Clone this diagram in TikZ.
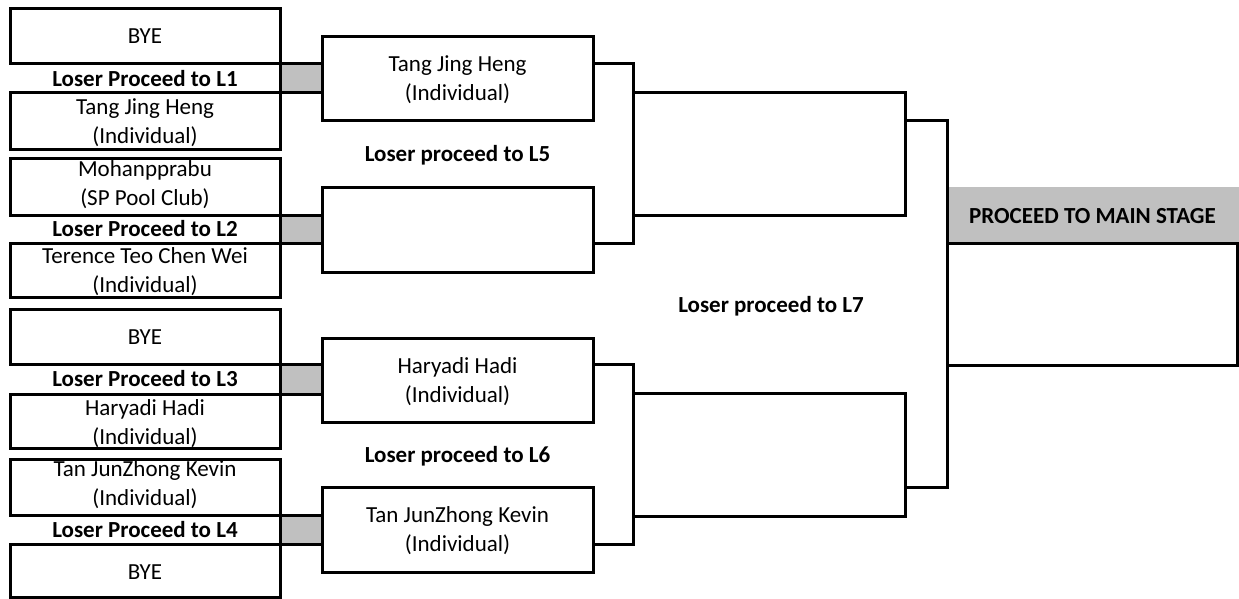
\documentclass[tikz,border=0pt]{standalone}
\usepackage{fontspec}
\setmainfont{Carlito}
\usetikzlibrary{backgrounds}
\definecolor{cellgray}{HTML}{C0C0C0}
\newcommand\twoln[2]{\begin{tabular}[t]{@{}c@{}}#1\\#2\end{tabular}}
\begin{document}
\begin{tikzpicture}[x=1pt,y=-1pt,
  box/.style={draw, rectangle, inner sep=0pt, outer sep=0pt, line width=3pt},
  lbox/.style={box, minimum width=270pt},
  rbox/.style={box, minimum width=271pt},
  sbox/.style={box, minimum width=272pt},
  wire/.style={line width=3pt},
  txt/.style={anchor=base, inner sep=0pt, outer sep=0pt, font=\fontsize{23}{29}\selectfont},
  btxt/.style={txt, font=\fontsize{23}{29}\selectfont\bfseries}]
\useasboundingbox (0,0) rectangle (1239,599);

% round 1 boxes
\node[lbox, minimum height=55pt] (l1) at (145,36.5) {};
\node[lbox, minimum height=56pt] (l2) at (145,121) {};
\node[lbox, minimum height=57pt] (l3) at (145,186.5) {};
\node[lbox, minimum height=54pt] (l4) at (145,270) {};
\node[lbox, minimum height=55pt] (l5) at (145,336.5) {};
\node[lbox, minimum height=54pt] (l6) at (145,421) {};
\node[lbox, minimum height=56pt] (l7) at (145,487) {};
\node[lbox, minimum height=53pt] (l8) at (145,570.5) {};

% round 2 boxes
\node[rbox, minimum height=84pt] (a) at (457.5,79) {};
\node[rbox, minimum height=85pt] (b) at (457.5,229.5) {};
\node[rbox, minimum height=84pt] (c) at (457.5,380) {};
\node[rbox, minimum height=85pt] (d) at (457.5,529.5) {};

% round 3 boxes
\node[sbox, minimum height=122pt] (e) at (769,154) {};
\node[sbox, minimum height=123pt] (f) at (769,454.5) {};

% final
\node[fill=cellgray, inner sep=0pt, outer sep=0pt, minimum width=292pt, minimum height=56pt] (hdr) at (1093,215) {};
\node[box, minimum width=290pt, minimum height=122pt] (fin) at (1092,304) {};

% grey loser cells
\begin{scope}[on background layer]
  \fill[cellgray] (l1.south east) rectangle (a.west |- l2.north east);
  \fill[cellgray] (l3.south east) rectangle (b.west |- l4.north east);
  \fill[cellgray] (l5.south east) rectangle (c.west |- l6.north east);
  \fill[cellgray] (l7.south east) rectangle (d.west |- l8.north east);
\end{scope}

% round 1 connectors
\draw[wire] (l1.south east) -- (a.west |- l1.south east);
\draw[wire] (l2.north east) -- (a.west |- l2.north east);
\draw[wire] (l1.south east) -- (l2.north east);
\draw[wire] (l3.south east) -- (b.west |- l3.south east);
\draw[wire] (l4.north east) -- (b.west |- l4.north east);
\draw[wire] (l3.south east) -- (l4.north east);
\draw[wire] (l5.south east) -- (c.west |- l5.south east);
\draw[wire] (l6.north east) -- (c.west |- l6.north east);
\draw[wire] (l5.south east) -- (l6.north east);
\draw[wire] (l7.south east) -- (d.west |- l7.south east);
\draw[wire] (l8.north east) -- (d.west |- l8.north east);
\draw[wire] (l7.south east) -- (l8.north east);

% round 2 brackets
\draw[wire] (a.east |- l1.south) -- (e.west |- l1.south) -- (e.west |- l4.north) -- (b.east |- l4.north);
\draw[wire] (c.east |- l5.south) -- (f.west |- l5.south) -- (f.west |- l8.north) -- (d.east |- l8.north);
% round 3 bracket
\draw[wire] (e.east |- a.south) -- (fin.west |- a.south) -- (fin.west |- d.north) -- (f.east |- d.north);

% texts round 1
\node[txt] (t1) at (145,44) {BYE};
\node[btxt] (g1) at (145,86.5) {Loser Proceed to L1};
\node[txt] (t2) at (145,114.5) {\twoln{Tang Jing Heng}{(Individual)}};
\node[txt] (t3) at (145,176) {\twoln{Mohanpprabu}{(SP Pool Club)}};
\node[btxt] (g2) at (145,236) {Loser Proceed to L2};
\node[txt] (t4) at (145,263) {\twoln{Terence Teo Chen Wei}{(Individual)}};
\node[txt] (t5) at (145,344) {BYE};
\node[btxt] (g3) at (145,386.5) {Loser Proceed to L3};
\node[txt] (t6) at (145,415) {\twoln{Haryadi Hadi}{(Individual)}};
\node[txt] (t7) at (145,476) {\twoln{Tan JunZhong Kevin}{(Individual)}};
\node[btxt] (g4) at (145,537) {Loser Proceed to L4};
\node[txt] (t8) at (145,579) {BYE};

% texts round 2
\node[txt] (ta) at (457.5,72) {\twoln{Tang Jing Heng}{(Individual)}};
\node[btxt] (g5) at (457.5,161.5) {Loser proceed to L5};
\node[txt] (tc) at (457.5,373) {\twoln{Haryadi Hadi}{(Individual)}};
\node[btxt] (g6) at (457.5,462) {Loser proceed to L6};
\node[txt] (td) at (457.5,522) {\twoln{Tan JunZhong Kevin}{(Individual)}};

% texts round 3 / final
\node[btxt] (g7) at (771,312) {Loser proceed to L7};
\node[btxt] (th) at (1092.5,223) {PROCEED TO MAIN STAGE};
\end{tikzpicture}
\end{document}
